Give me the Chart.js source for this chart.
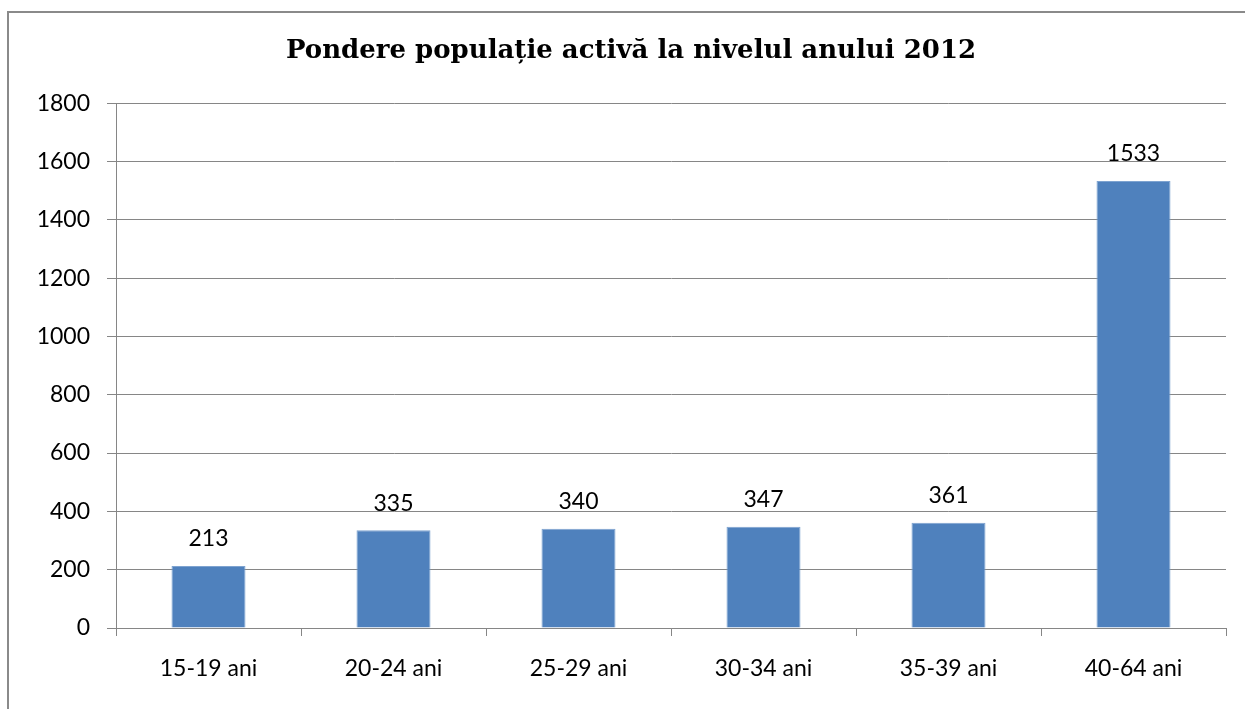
<!DOCTYPE html>
<html>
<head>
<meta charset="utf-8">
<script src="https://cdn.jsdelivr.net/npm/chart.js@4"></script>
<style>
  html, body { margin: 0; padding: 0; background: #fff; }
  #wrap { width: 1245px; height: 709px; }
</style>
</head>
<body>
<div id="wrap"><canvas id="grafico"></canvas></div>
<script>
const categorii = ['15-19 ani', '20-24 ani', '25-29 ani', '30-34 ani', '35-39 ani', '40-64 ani'];
const valori = [213, 335, 340, 347, 361, 1533];
const axaY = { min: 0, max: 1800, pas: 200 };

// chenarul graficului (ca in Excel)
const chenar = {
    id: 'chenar',
    beforeDraw(chart) {
        const c = chart.ctx;
        c.save();
        c.fillStyle = '#fff';
        c.fillRect(0, 0, chart.width, chart.height);
        c.strokeStyle = '#8a8a8a';
        c.lineWidth = 2;
        c.strokeRect(8, 12, chart.width + 50, chart.height + 50);
        c.restore();
    }
};

// etichete cu valorile deasupra barelor
const etichete = {
    id: 'etichete',
    afterDatasetsDraw(chart) {
        const c = chart.ctx;
        const meta = chart.getDatasetMeta(0);
        c.save();
        c.font = '23px Lato';
        c.fillStyle = '#000';
        c.textAlign = 'center';
        c.textBaseline = 'middle';
        meta.data.forEach((bar, i) => {
            c.fillText(String(valori[i]), bar.x, bar.y - 27);
        });
        c.restore();
    }
};

const ctx = document.getElementById('grafico');
new Chart(ctx, {
    type: 'bar',
    data: {
        labels: categorii,
        datasets: [{
            label: 'Populatie activa',
            data: valori,
            backgroundColor: '#4F81BD',
            borderColor: '#7EA3D0',
            borderWidth: 1,
            categoryPercentage: 1,
            barPercentage: 0.4
        }]
    },
    options: {
        responsive: true,
        maintainAspectRatio: false,
        animation: false,
        layout: { padding: { top: 0, right: 19, bottom: 0, left: 36 } },
        plugins: {
            legend: { display: false },
            tooltip: { enabled: false },
            title: {
                display: true,
                text: 'Pondere populație activă la nivelul anului 2012',
                color: '#000',
                font: { family: 'DejaVu Serif', size: 26, weight: 'bold', lineHeight: 1.2 },
                padding: { top: 36, bottom: 36 }
            }
        },
        scales: {
            x: {
                grid: { drawOnChartArea: false, color: '#868686', tickLength: 8, tickColor: '#868686' },
                border: { color: '#868686', width: 1 },
                ticks: { color: '#000', font: { family: 'Lato', size: 23 }, padding: 19 },
                afterFit(scale) { scale.height = 81; }
            },
            y: {
                min: axaY.min,
                max: axaY.max,
                grid: { color: '#868686', tickLength: 9, tickColor: '#868686' },
                border: { color: '#868686', width: 1 },
                ticks: {
                    stepSize: axaY.pas,
                    color: '#000',
                    font: { family: 'Lato', size: 23 },
                    padding: 17,
                    callback: (v) => String(v)
                },
                afterFit(scale) { scale.width = 80; }
            }
        }
    },
    plugins: [chenar, etichete]
});
</script>
</body>
</html>
